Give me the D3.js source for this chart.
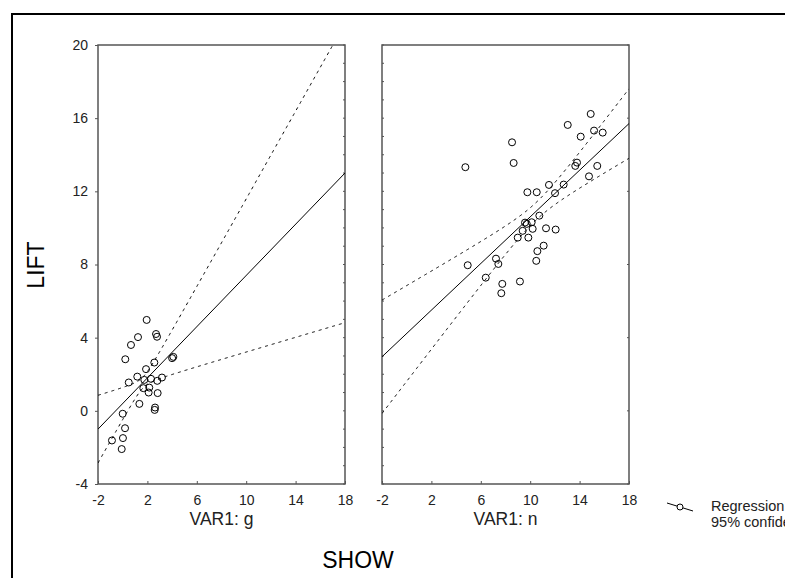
<!DOCTYPE html>
<html>
<head>
<meta charset="utf-8">
<script src="https://cdn.jsdelivr.net/npm/d3@7"></script>
<style>
  html, body { margin: 0; padding: 0; background: #fff; }
  svg { display: block; font-family: "Liberation Sans", Arial, sans-serif; }
</style>
</head>
<body>
<svg id="chart" width="785" height="578"></svg>
<script>
// Scatter data per group (SHOW on x, LIFT on y)
const gShow = [1.94, 2.70, 2.78, 1.24, 0.67, 0.21, 2.56, 4.00, 4.10, 1.89, 1.18, 0.49, 1.75, 2.29, 2.80, 3.18,
               1.67, 2.15, 2.10, 2.83, 1.35, 2.62, 2.59, 0.00, 0.19, 0.02, -0.87, -0.08];
const gLift = [4.97, 4.20, 4.05, 4.03, 3.60, 2.82, 2.64, 2.88, 2.95, 2.28, 1.87, 1.55, 1.69, 1.75, 1.64, 1.82,
               1.24, 1.27, 1.00, 0.97, 0.38, 0.18, 0.05, -0.16, -0.95, -1.49, -1.62, -2.09];

const nShow = [14.90, 13.04, 15.17, 15.87, 14.09, 8.53, 8.66, 4.75, 13.79, 13.65, 15.43, 14.76, 12.71, 11.52,
               12.01, 9.77, 10.53, 10.74, 9.58, 10.12, 10.20, 9.39, 9.72, 11.28, 12.06, 8.99, 9.85, 11.09,
               10.58, 10.49, 4.94, 7.23, 7.42, 6.40, 7.74, 9.17, 7.66];
const nLift = [16.23, 15.63, 15.32, 15.21, 14.99, 14.68, 13.55, 13.32, 13.57, 13.39, 13.39, 12.82, 12.37, 12.35,
               11.90, 11.95, 11.95, 10.67, 10.29, 10.31, 9.95, 9.84, 10.22, 9.98, 9.91, 9.47, 9.47, 9.03,
               8.73, 8.20, 7.96, 8.32, 8.03, 7.28, 6.94, 7.07, 6.43];

// Panel titles and fitted regression summaries (line + 95% confidence band)
const panelTitles  = ["VAR1: g", "VAR1: n"];
const fitIntercept = [0.40, 4.23];
const fitSlope     = [0.70, 0.6375];
const fitMeanX     = [1.65, 10.5];
const bandAtMean   = [0.30, 0.48];   // half-width of band at mean x
const bandSlope    = [0.50, 0.245];  // growth of half-width away from mean x

const xTicks = [-2, 2, 6, 10, 14, 18];
const yTicks = [-4, 0, 4, 8, 12, 16, 20];
const legendLabels = ["Regression", "95% confidence"];

const svg = d3.select("#chart");

// Outer frame
svg.append("rect")
  .attr("x", 12).attr("y", 14)
  .attr("width", 800).attr("height", 600)
  .attr("fill", "none").attr("stroke", "#000").attr("stroke-width", 2);

const y = d3.scaleLinear().domain([-4, 20]).range([484, 45]);
const panelRanges = [[98, 345], [382, 629]];
const groups = [
  { xs: gShow, ys: gLift },
  { xs: nShow, ys: nLift }
];

const axisColor = "#555";
const textColor = "#222";
const tickFont = "14px";

panelRanges.forEach((range, i) => {
  const x = d3.scaleLinear().domain([-2, 18]).range(range);
  const g = svg.append("g");
  const clipId = "clip" + i;
  svg.append("clipPath").attr("id", clipId)
    .append("rect")
    .attr("x", range[0]).attr("y", y(20))
    .attr("width", range[1] - range[0]).attr("height", y(-4) - y(20));

  // Minor ticks (every unit) inside left and right borders
  const minor = d3.range(-4, 21, 1);
  const inner = g.append("g").attr("stroke", axisColor).attr("stroke-width", 1);
  if (i === 0) {
    inner.selectAll(".mr").data(minor).join("line")
      .attr("x1", range[1] - 2).attr("x2", range[1])
      .attr("y1", d => y(d)).attr("y2", d => y(d));
  } else {
    inner.selectAll(".ml").data(minor).join("line")
      .attr("x1", range[0]).attr("x2", range[0] + 2)
      .attr("y1", d => y(d)).attr("y2", d => y(d));
    inner.selectAll(".mr").data(yTicks).join("line")
      .attr("x1", range[1] - 2).attr("x2", range[1])
      .attr("y1", d => y(d)).attr("y2", d => y(d));
  }

  // Bottom axis
  const xAxis = d3.axisBottom(x).tickValues(xTicks).tickSize(-3).tickPadding(11)
    .tickFormat(d => String(d));
  const xa = g.append("g").attr("transform", `translate(0,${y(-4)})`).call(xAxis);
  xa.select(".domain").remove();
  xa.selectAll(".tick line").attr("stroke", axisColor);
  xa.selectAll("text").attr("fill", textColor).style("font-size", tickFont)
    .style("font-family", "'Liberation Sans', Arial, sans-serif");

  // Left axis with labels only for the first panel
  if (i === 0) {
    const yAxis = d3.axisLeft(y).tickValues(yTicks).tickSize(3).tickPadding(7)
      .tickFormat(d => String(d));
    const ya = g.append("g").attr("transform", `translate(${range[0]},0)`).call(yAxis);
    ya.select(".domain").remove();
    ya.selectAll(".tick line").attr("stroke", axisColor);
    ya.selectAll("text").attr("fill", textColor).style("font-size", tickFont)
      .style("font-family", "'Liberation Sans', Arial, sans-serif");
  }

  // Panel border
  g.append("rect")
    .attr("x", range[0]).attr("y", y(20))
    .attr("width", range[1] - range[0]).attr("height", y(-4) - y(20))
    .attr("fill", "none").attr("stroke", axisColor).attr("stroke-width", 1.5);

  // Regression line and confidence band
  const a = fitIntercept[i], b = fitSlope[i], mx = fitMeanX[i];
  const w0 = bandAtMean[i], wb = bandSlope[i];
  const fit = xv => a + b * xv;
  const half = xv => Math.sqrt(w0 * w0 + wb * wb * (xv - mx) * (xv - mx));
  const xs = d3.range(-2, 18.001, 0.05);
  const line = d3.line().x(d => x(d[0])).y(d => y(d[1]));
  const plot = g.append("g").attr("clip-path", `url(#${clipId})`);

  plot.append("path")
    .attr("d", line([[-2, fit(-2)], [18, fit(18)]]))
    .attr("fill", "none").attr("stroke", "#000").attr("stroke-width", 1);
  [1, -1].forEach(sgn => {
    plot.append("path")
      .attr("d", line(xs.map(v => [v, fit(v) + sgn * half(v)])))
      .attr("fill", "none").attr("stroke", "#000").attr("stroke-width", 1)
      .attr("stroke-dasharray", "3,4");
  });

  // Points
  const pts = groups[i].xs.map((v, k) => [v, groups[i].ys[k]]);
  plot.selectAll("circle").data(pts).join("circle")
    .attr("cx", d => x(d[0])).attr("cy", d => y(d[1]))
    .attr("r", 3.5)
    .attr("fill", "none").attr("stroke", "#000").attr("stroke-width", 1);

  // Panel title under the axis
  svg.append("text")
    .attr("x", (range[0] + range[1]) / 2).attr("y", 525)
    .attr("text-anchor", "middle").attr("fill", textColor)
    .style("font-size", "17.5px")
    .text(panelTitles[i]);
});

// Axis titles
svg.append("text")
  .attr("transform", "translate(44,265) rotate(-90)")
  .attr("text-anchor", "middle").attr("fill", "#000")
  .style("font-size", "23px")
  .text("LIFT");

svg.append("text")
  .attr("x", 358).attr("y", 568)
  .attr("text-anchor", "middle").attr("fill", "#000")
  .style("font-size", "23px")
  .text("SHOW");

// Legend (runs past the right edge of the window)
const lg = svg.append("g");
lg.append("line").attr("x1", 667).attr("y1", 503).attr("x2", 693).attr("y2", 511)
  .attr("stroke", "#000").attr("stroke-width", 1);
lg.append("circle").attr("cx", 680).attr("cy", 507).attr("r", 3)
  .attr("fill", "#fff").attr("stroke", "#000").attr("stroke-width", 1);
lg.selectAll("text").data(legendLabels).join("text")
  .attr("x", 711).attr("y", (d, k) => 511 + k * 16)
  .attr("fill", textColor).style("font-size", "14.5px")
  .text(d => d);
</script>
</body>
</html>
